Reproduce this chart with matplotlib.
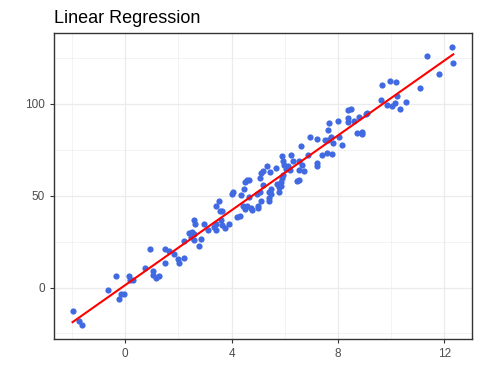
import numpy as np
import matplotlib.pyplot as plt
from matplotlib.ticker import MultipleLocator

# dados
x = [-1.98, -1.74, -1.64, -0.63, -0.36, -0.25, -0.15, -0.06, 0.16, 0.19,
     0.31, 0.73, 1.03, 1.03, 1.14, 1.29, 1.48, 0.94, 1.63, 1.85,
     2.00, 2.04, 2.23, 1.48, 2.21, 2.39, 2.51, 2.59, 2.48, 2.57,
     2.84, 2.76, 3.11, 3.42, 2.57, 2.61, 2.98, 3.92, 3.61, 3.64,
     3.42, 3.35, 3.77, 4.22, 4.32, 3.55, 3.64, 3.51, 3.42, 4.42,
     4.51, 4.58, 4.76, 4.73, 4.99, 4.99, 5.10, 5.41, 5.39, 4.05,
     4.01, 4.36, 4.67, 4.95, 5.08, 5.80, 5.48, 5.41, 5.48, 5.70,
     5.79, 5.86, 5.18, 4.67, 4.52, 4.58, 4.48, 6.52, 6.45, 5.95,
     5.89, 5.85, 5.18, 5.11, 5.08, 5.33, 5.67, 5.45, 6.55, 6.74,
     6.33, 5.95, 5.99, 6.14, 6.04, 6.18, 6.53, 6.65, 5.91, 6.25,
     6.89, 7.23, 7.23, 7.42, 7.60, 7.79, 6.63, 6.95, 7.23, 7.52,
     7.64, 7.73, 7.83, 7.64, 7.68, 8.17, 8.06, 8.73, 8.91, 8.91,
     8.02, 8.39, 8.37, 8.62, 8.81, 9.09, 9.06, 8.37, 8.51, 9.64,
     9.86, 10.05, 10.16, 10.35, 10.58, 10.24, 9.67, 9.97, 10.20, 11.10,
     11.82, 11.36, 12.30, 12.34]
y = [-13.0, -18.4, -20.6, -1.1, 6.1, -6.5, -3.6, -3.3, 6.1, 4.0,
     4.3, 10.8, 9.0, 6.7, 5.0, 6.1, 13.6, 21.1, 19.8, 18.4,
     15.7, 13.6, 16.3, 21.1, 25.5, 29.4, 30.2, 29.0, 27.4, 26.0,
     26.3, 22.8, 31.1, 31.1, 36.5, 34.7, 34.7, 34.7, 36.9, 34.2,
     34.7, 32.9, 32.5, 38.3, 38.8, 41.4, 41.4, 47.3, 44.5, 44.6,
     42.8, 44.6, 42.3, 43.4, 43.2, 44.3, 47.3, 47.3, 48.8, 52.2,
     51.0, 50.1, 49.5, 51.0, 52.2, 52.2, 53.7, 52.2, 51.0, 56.4,
     54.6, 55.1, 55.9, 58.6, 57.3, 58.6, 53.7, 58.6, 57.8, 61.4,
     59.7, 57.6, 63.6, 62.1, 59.7, 66.3, 65.1, 63.1, 64.0, 63.2,
     68.7, 68.7, 66.9, 65.9, 64.5, 64.0, 68.7, 66.7, 71.6, 72.1,
     72.1, 67.6, 65.9, 72.1, 73.2, 72.7, 77.0, 82.0, 80.8, 80.3,
     80.2, 81.8, 78.6, 85.7, 89.5, 77.5, 81.9, 84.1, 84.8, 83.4,
     90.6, 92.2, 90.2, 90.6, 92.7, 95.2, 94.4, 96.5, 97.1, 102.0,
     99.4, 98.7, 100.3, 97.1, 101.0, 104.3, 110.2, 112.4, 111.9, 108.5,
     116.1, 126.0, 130.9, 122.0]

x = np.array(x)
y = np.array(y)

# ajuste linear
coef = np.polyfit(x, y, 1)
xs = np.array([x.min(), x.max()])
ys = np.polyval(coef, xs)

plt.rcParams['font.family'] = ['Liberation Sans', 'DejaVu Sans']

fig = plt.figure(figsize=(4.8, 3.84), dpi=100)
ax = fig.add_axes([0.1115, 0.1164, 0.8725, 0.7976])

ax.scatter(x, y, s=20, color='#4169E1', linewidths=0, zorder=3)
ax.plot(xs, ys, color='red', linewidth=1.5, zorder=4)

# limites com expansão de 5% (estilo ggplot)
rx = x.max() - x.min()
ry = y.max() - y.min()
ax.set_xlim(x.min() - 0.05 * rx, x.max() + 0.05 * rx)
ax.set_ylim(y.min() - 0.05 * ry, y.max() + 0.05 * ry)

ax.xaxis.set_major_locator(MultipleLocator(4))
ax.xaxis.set_minor_locator(MultipleLocator(2))
ax.yaxis.set_major_locator(MultipleLocator(50))
ax.yaxis.set_minor_locator(MultipleLocator(25))

ax.grid(True, which='major', color='#EBEBEB', linewidth=0.9)
ax.grid(True, which='minor', color='#EFEFEF', linewidth=0.5)
ax.set_axisbelow(True)

for s in ax.spines.values():
    s.set_color('#333333')
    s.set_linewidth(1.0)

ax.tick_params(which='major', length=3, width=0.8, color='#333333',
               labelsize=8.5, labelcolor='#4D4D4D', pad=3)
ax.tick_params(which='minor', length=0)

ax.set_title("Linear Regression", loc='left', fontsize=13, pad=7)

plt.savefig("out.png", dpi=100)
plt.close()
